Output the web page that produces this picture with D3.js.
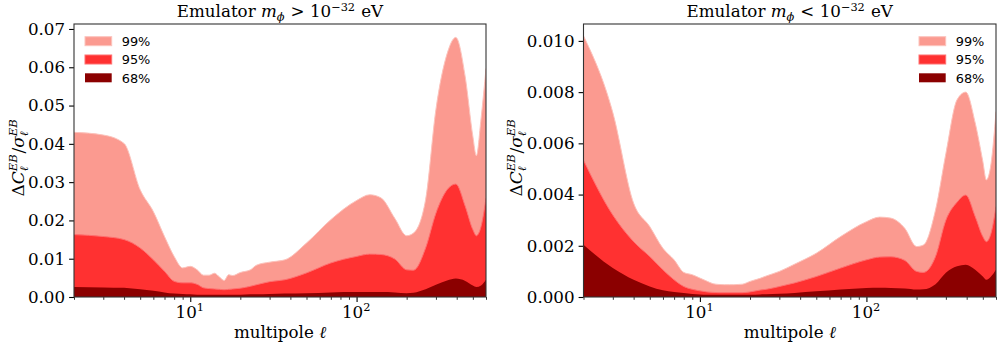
<!DOCTYPE html>
<html>
<head>
<meta charset="utf-8">
<script src="https://cdn.jsdelivr.net/npm/d3@7"></script>
<style>
  html, body { margin: 0; padding: 0; background: #fff; }
  svg { display: block; }
  text { white-space: pre; }
</style>
</head>
<body>
<svg id="chart" width="997" height="346"></svg>
<script>
// ---------------- DATA ----------------
const ell = [2,3,4,5,6,7,8,9,10,11,12,13,14,15,16,17,18,20,23,25,30,37,50,70,100,120,140,170,200,220,260,300,350,395,450,500,525,560,600];

// Left panel: m_phi > 1e-32 eV
const left99 = [0.0430,0.0423,0.0401,0.0280,0.0223,0.0158,0.0106,0.0076,0.0080,0.0071,0.0057,0.0057,0.0062,0.0052,0.0043,0.0058,0.0056,0.0064,0.0071,0.0083,0.0091,0.0097,0.0141,0.0202,0.0252,0.0267,0.0259,0.0205,0.0160,0.0167,0.0254,0.0490,0.0635,0.0678,0.0575,0.0420,0.0369,0.0465,0.0597];
const left95 = [0.0163,0.0158,0.0150,0.0128,0.0097,0.0067,0.0041,0.0037,0.0037,0.0033,0.0024,0.0022,0.0021,0.0020,0.0019,0.0020,0.0021,0.0023,0.0028,0.0032,0.0040,0.0045,0.0063,0.0089,0.0106,0.0112,0.0111,0.0099,0.0071,0.0070,0.0128,0.0219,0.0280,0.0295,0.0237,0.0176,0.0160,0.0184,0.0258];
const left68 = [0.0026,0.0025,0.0024,0.0020,0.0016,0.0012,0.0009,0.0008,0.0007,0.0006,0.0006,0.0006,0.0006,0.0006,0.0006,0.0006,0.0006,0.0006,0.0007,0.0007,0.0008,0.0009,0.0010,0.0012,0.0013,0.0013,0.0013,0.0012,0.0010,0.0011,0.0020,0.0032,0.0043,0.0048,0.0042,0.0030,0.0026,0.0030,0.0045];

// Right panel: m_phi < 1e-32 eV
const right99 = [0.0102,0.0072,0.00366,0.00275,0.0019,0.00145,0.00096,0.00087,0.00074,0.00062,0.00052,0.00049,0.00048,0.00048,0.00048,0.00049,0.00050,0.00061,0.00073,0.00082,0.00100,0.00128,0.00171,0.00236,0.00294,0.00312,0.00308,0.00268,0.00197,0.00203,0.00340,0.00560,0.00770,0.00800,0.00680,0.00530,0.00457,0.00520,0.00724];
const right95 = [0.00534,0.0032,0.00216,0.00158,0.00106,0.00067,0.00041,0.00030,0.00024,0.00020,0.00018,0.00017,0.00017,0.00017,0.00017,0.00017,0.00017,0.00020,0.00027,0.00030,0.00041,0.00055,0.00080,0.00113,0.00145,0.00156,0.00157,0.00143,0.00100,0.00096,0.00158,0.00300,0.00370,0.00398,0.00314,0.00236,0.00216,0.00249,0.00353];
const right68 = [0.00204,0.00113,0.00067,0.00041,0.00026,0.00020,0.00016,0.00012,0.00010,0.00009,0.00009,0.00009,0.00009,0.00009,0.00009,0.00009,0.00009,0.00009,0.00010,0.00011,0.00013,0.00016,0.00022,0.00029,0.00035,0.00036,0.00035,0.00033,0.00029,0.00030,0.00050,0.00095,0.00120,0.00126,0.00106,0.00080,0.00067,0.00080,0.00106];

const levels = ["99%", "95%", "68%"];
const leftYTicks = [0, 0.01, 0.02, 0.03, 0.04, 0.05, 0.06, 0.07];
const rightYTicks = [0, 0.002, 0.004, 0.006, 0.008, 0.010];
const xMajor = [10, 100];
const xMinor = [2,3,4,5,6,7,8,9,20,30,40,50,60,70,80,90,200,300,400,500,600];

// ---------------- STYLE ----------------
const fills = ["#fb9a90", "#ff3131", "#8b0000"];
const edges = ["#fcc3bc", "#ff7070", "#8b0000"];
const SERIF = "'DejaVu Serif', serif";
const SANS = "'DejaVu Sans', sans-serif";
const FS = 16.7;

const svg = d3.select("#chart");

// math-ish text layout helper: pieces laid out sequentially, measured
function mathText(parent, pieces, x, y, anchor, size, supShift) {
  const g = parent.append("g");
  let cx = 0;
  const ss = supShift == null ? size * 0.40 : supShift;
  function put(p, sz, shift) {
    const t = g.append("text")
      .attr("x", cx).attr("y", -shift)
      .attr("font-family", SERIF)
      .attr("font-size", sz)
      .attr("font-style", p.it ? "italic" : "normal")
      .attr("fill", "#000")
      .attr("xml:space", "preserve")
      .text(p.t);
    return t.node().getComputedTextLength();
  }
  pieces.forEach(p => {
    if (p.sup || p.sub) {
      const s = size * 0.68;
      let w1 = 0, w2 = 0;
      if (p.sup) w1 = put(p.sup, s, ss);
      if (p.sub) w2 = put(p.sub, s, -size * 0.22);
      cx += Math.max(w1, w2) + size * 0.05;
    } else {
      cx += put(p, size, 0);
    }
  });
  let off = 0;
  if (anchor === "middle") off = -cx / 2;
  else if (anchor === "end") off = -cx;
  g.attr("transform", `translate(${x + off},${y})`);
  return g;
}

function panel(cfg) {
  const { x0, x1, y0, y1, s99, s95, s68, yTicks, yMax, fmt, title, legendX, ylabelX } = cfg;
  const x = d3.scaleLog().domain([2, 600]).range([x0, x1]);
  const y = d3.scaleLinear().domain([0, yMax]).range([y1, y0]);
  const g = svg.append("g");

  const clipId = "clip" + Math.round(x0);
  svg.append("defs").append("clipPath").attr("id", clipId)
    .append("rect").attr("x", x0).attr("y", y0).attr("width", x1 - x0).attr("height", y1 - y0);

  const plot = g.append("g").attr("clip-path", `url(#${clipId})`);
  const series = [s99, s95, s68];
  series.forEach((s, i) => {
    const area = d3.area()
      .x((d, j) => x(ell[j]))
      .y0(y(0))
      .y1(d => y(d))
      .curve(d3.curveMonotoneX);
    const line = d3.line()
      .x((d, j) => x(ell[j]))
      .y(d => y(d))
      .curve(d3.curveMonotoneX);
    plot.append("path").datum(s).attr("d", area).attr("fill", fills[i]);
    if (i < 2) {
      plot.append("path").datum(s).attr("d", line)
        .attr("fill", "none").attr("stroke", edges[i]).attr("stroke-width", 1);
    }
  });

  // Y axis
  const yAxis = d3.axisLeft(y).tickValues(yTicks).tickFormat(d3.format(fmt)).tickSize(4.9).tickPadding(4);
  const ya = g.append("g").attr("transform", `translate(${x0},0)`).call(yAxis);
  ya.select(".domain").remove();
  ya.selectAll("text").attr("font-family", SERIF).attr("font-size", FS).attr("fill", "#000");
  ya.selectAll("line").attr("stroke", "#000").attr("stroke-width", 1.1);

  // X axis major / minor ticks
  const xa = g.append("g").attr("transform", `translate(0,${y1})`)
    .call(d3.axisBottom(x).tickValues(xMajor).tickFormat("").tickSize(4.9));
  xa.select(".domain").remove();
  xa.selectAll("line").attr("stroke", "#000").attr("stroke-width", 1.1);
  const xm = g.append("g").attr("transform", `translate(0,${y1})`)
    .call(d3.axisBottom(x).tickValues(xMinor).tickFormat("").tickSize(2.8));
  xm.select(".domain").remove();
  xm.selectAll("line").attr("stroke", "#000").attr("stroke-width", 0.8);

  xMajor.forEach(v => {
    mathText(g, [{ t: "10" }, { sup: { t: String(Math.round(Math.log10(v))) } }], x(v), 318, "middle", FS);
  });

  // Frame
  g.append("rect").attr("x", x0).attr("y", y0).attr("width", x1 - x0).attr("height", y1 - y0)
    .attr("fill", "none").attr("stroke", "#333").attr("stroke-width", 1.1);

  // Title
  mathText(g, title, (x0 + x1) / 2, 17, "middle", FS, 6);

  // X label
  mathText(g, [{ t: "multipole " }, { t: "ℓ", it: true }], (x0 + x1) / 2, 338, "middle", FS);

  // Y label (rotated)
  const yl = g.append("g").attr("transform", `translate(${ylabelX},${(y0 + y1) / 2 - 3}) rotate(-90)`);
  mathText(yl, [
    { t: "Δ" }, { t: "C", it: true }, { sup: { t: "EB", it: true }, sub: { t: "ℓ", it: true } },
    { t: "/" }, { t: "σ", it: true }, { sup: { t: "EB", it: true }, sub: { t: "ℓ", it: true } }
  ], 0, 0, "middle", 17);

  // Legend
  const lg = g.append("g");
  levels.forEach((lab, i) => {
    const yy = 36.7 + i * 18.3;
    lg.append("rect").attr("x", legendX).attr("y", yy).attr("width", 26.7).attr("height", 9)
      .attr("fill", fills[i]).attr("stroke", i < 2 ? edges[i] : "none").attr("stroke-width", 1);
    lg.append("text").attr("x", legendX + 36.7).attr("y", yy + 9.2)
      .attr("font-family", SANS).attr("font-size", 12.9).attr("fill", "#000").text(lab);
  });
}

panel({
  x0: 74, x1: 486, y0: 24, y1: 297,
  s99: left99, s95: left95, s68: left68,
  yTicks: leftYTicks, yMax: 0.0713, fmt: ".2f",
  legendX: 85, ylabelX: 24,
  title: [{ t: "Emulator " }, { t: "m", it: true }, { sub: { t: "ϕ", it: true } }, { t: " > " },
          { t: "10" }, { sup: { t: "−32" } }, { t: " eV" }]
});

panel({
  x0: 583.5, x1: 996, y0: 24, y1: 297,
  s99: right99, s95: right95, s68: right68,
  yTicks: rightYTicks, yMax: 0.01066, fmt: ".3f",
  legendX: 919, ylabelX: 522,
  title: [{ t: "Emulator " }, { t: "m", it: true }, { sub: { t: "ϕ", it: true } }, { t: " < " },
          { t: "10" }, { sup: { t: "−32" } }, { t: " eV" }]
});
</script>
</body>
</html>
